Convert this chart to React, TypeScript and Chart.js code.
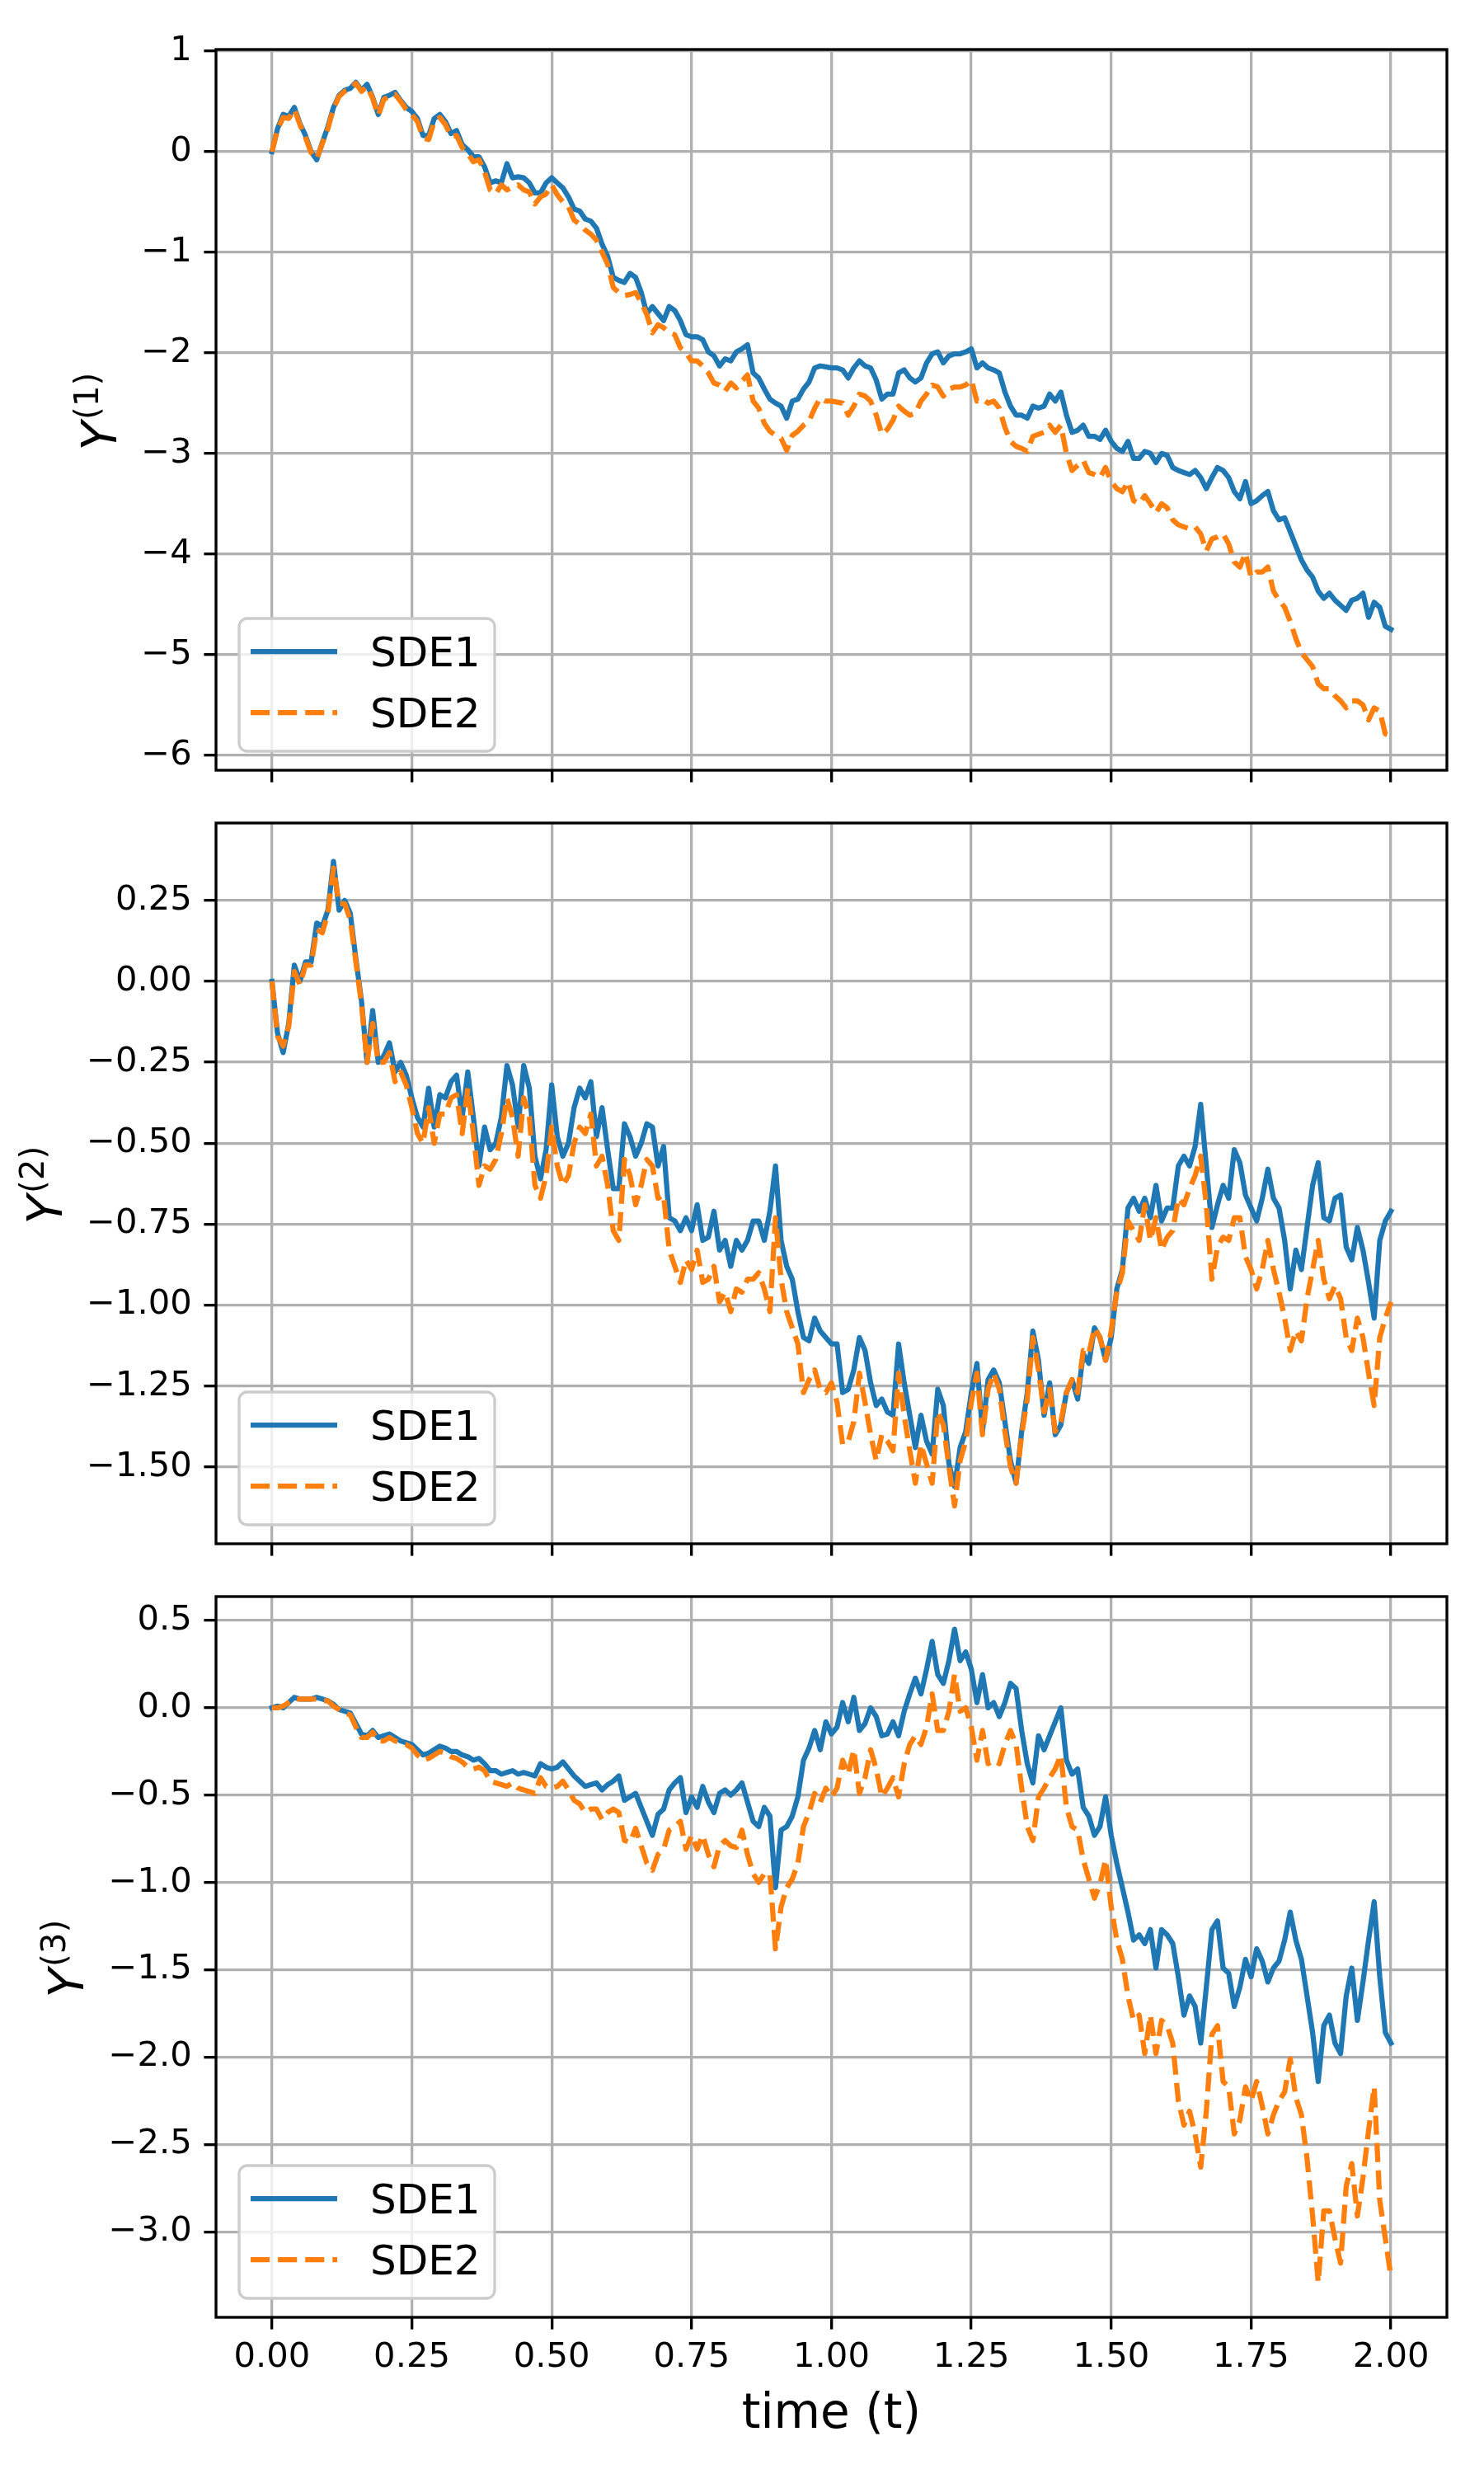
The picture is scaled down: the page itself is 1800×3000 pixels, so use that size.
import { useEffect, useRef } from 'react'
import { Chart, registerables } from 'chart.js'

Chart.register(...registerables)

// samples are 0.01 apart on the time axis, t = 0 .. 2
const TIME_STEP = 0.01

const Y1_SDE1 = [
  0, 0.23, 0.37, 0.35, 0.44, 0.28, 0.16, 0.0, -0.08, 0.09,
  0.25, 0.44, 0.56, 0.61, 0.63, 0.69, 0.61, 0.67, 0.54, 0.37,
  0.54, 0.56, 0.59, 0.51, 0.44, 0.40, 0.33, 0.16, 0.16, 0.33,
  0.37, 0.30, 0.18, 0.21, 0.07, 0.02, -0.05, -0.05, -0.15, -0.31,
  -0.29, -0.31, -0.12, -0.26, -0.25, -0.26, -0.31, -0.41, -0.41, -0.31,
  -0.26, -0.31, -0.36, -0.45, -0.57, -0.59, -0.67, -0.69, -0.76, -0.92,
  -1.04, -1.25, -1.28, -1.30, -1.21, -1.25, -1.40, -1.61, -1.54, -1.61,
  -1.68, -1.54, -1.58, -1.68, -1.82, -1.84, -1.84, -1.87, -1.99, -2.03,
  -2.13, -2.06, -2.08, -1.99, -1.96, -1.92, -2.20, -2.25, -2.36, -2.46,
  -2.50, -2.53, -2.65, -2.48, -2.46, -2.36, -2.29, -2.15, -2.13, -2.14,
  -2.15, -2.15, -2.17, -2.25, -2.15, -2.08, -2.13, -2.15, -2.27, -2.46,
  -2.41, -2.41, -2.20, -2.17, -2.25, -2.29, -2.25, -2.10, -2.01, -1.99,
  -2.10, -2.03, -2.01, -2.01, -1.99, -1.96, -2.15, -2.10, -2.15, -2.17,
  -2.20, -2.39, -2.53, -2.62, -2.62, -2.65, -2.53, -2.55, -2.53, -2.41,
  -2.48, -2.39, -2.62, -2.79, -2.77, -2.72, -2.83, -2.83, -2.86, -2.77,
  -2.88, -2.95, -2.98, -2.88, -3.05, -3.05, -2.98, -3.00, -3.09, -3.00,
  -3.02, -3.14, -3.17, -3.19, -3.21, -3.17, -3.24, -3.35, -3.24, -3.14,
  -3.17, -3.24, -3.38, -3.45, -3.28, -3.50, -3.47, -3.42, -3.38, -3.57,
  -3.66, -3.64, -3.78, -3.92, -4.06, -4.16, -4.23, -4.37, -4.44, -4.39,
  -4.46, -4.51, -4.56, -4.46, -4.44, -4.39, -4.63, -4.48, -4.53, -4.72,
  -4.75,
]

const Y1_SDE2 = [
  0, 0.22, 0.34, 0.33, 0.42, 0.27, 0.14, -0.01, -0.07, 0.08,
  0.23, 0.43, 0.55, 0.60, 0.62, 0.68, 0.60, 0.65, 0.53, 0.36,
  0.52, 0.55, 0.57, 0.50, 0.42, 0.37, 0.30, 0.14, 0.12, 0.30,
  0.34, 0.27, 0.15, 0.16, 0.04, -0.02, -0.10, -0.08, -0.20, -0.38,
  -0.42, -0.33, -0.38, -0.35, -0.33, -0.38, -0.40, -0.52, -0.45, -0.42,
  -0.33, -0.43, -0.50, -0.55, -0.68, -0.72, -0.78, -0.82, -0.88, -1.00,
  -1.12, -1.35, -1.40, -1.43, -1.42, -1.40, -1.50, -1.62, -1.80, -1.72,
  -1.75, -1.80, -1.82, -1.95, -2.00, -2.08, -2.08, -2.13, -2.20, -2.30,
  -2.32, -2.38, -2.30, -2.35, -2.28, -2.22, -2.48, -2.55, -2.70, -2.78,
  -2.82, -2.85, -2.97, -2.82, -2.78, -2.72, -2.68, -2.55, -2.45, -2.48,
  -2.48, -2.49, -2.50, -2.62, -2.53, -2.41, -2.43, -2.48, -2.62, -2.81,
  -2.76, -2.67, -2.53, -2.58, -2.62, -2.60, -2.48, -2.41, -2.32, -2.34,
  -2.43, -2.36, -2.34, -2.34, -2.32, -2.27, -2.48, -2.46, -2.50, -2.48,
  -2.55, -2.74, -2.88, -2.93, -2.95, -2.98, -2.83, -2.81, -2.79, -2.72,
  -2.79, -2.72, -3.00, -3.17, -3.12, -3.07, -3.19, -3.21, -3.24, -3.14,
  -3.28, -3.35, -3.38, -3.28, -3.47, -3.50, -3.42, -3.50, -3.59, -3.50,
  -3.54, -3.66, -3.71, -3.73, -3.75, -3.73, -3.80, -3.97, -3.85, -3.83,
  -3.80, -3.90, -4.08, -4.13, -3.99, -4.23, -4.18, -4.18, -4.13, -4.37,
  -4.46, -4.53, -4.67, -4.84, -4.98, -5.05, -5.12, -5.29, -5.34, -5.34,
  -5.41, -5.46, -5.53, -5.46, -5.46, -5.50, -5.65, -5.53, -5.56, -5.79,
  -5.81,
]

const Y2_SDE1 = [
  0, -0.16, -0.22, -0.13, 0.05, 0.00, 0.06, 0.06, 0.18, 0.17,
  0.22, 0.37, 0.22, 0.25, 0.21, 0.07, -0.06, -0.25, -0.09, -0.25,
  -0.23, -0.19, -0.28, -0.25, -0.29, -0.36, -0.42, -0.45, -0.33, -0.45,
  -0.35, -0.36, -0.31, -0.29, -0.42, -0.28, -0.42, -0.57, -0.45, -0.52,
  -0.50, -0.42, -0.26, -0.32, -0.45, -0.26, -0.33, -0.54, -0.61, -0.52,
  -0.32, -0.48, -0.54, -0.50, -0.39, -0.33, -0.36, -0.31, -0.48, -0.39,
  -0.52, -0.64, -0.64, -0.44, -0.48, -0.54, -0.50, -0.44, -0.45, -0.57,
  -0.51, -0.73, -0.74, -0.77, -0.73, -0.77, -0.69, -0.80, -0.79, -0.71,
  -0.83, -0.80, -0.88, -0.80, -0.83, -0.80, -0.74, -0.74, -0.80, -0.71,
  -0.57, -0.80, -0.88, -0.92, -1.02, -1.10, -1.11, -1.04, -1.08, -1.10,
  -1.12, -1.12, -1.27, -1.26, -1.20, -1.10, -1.14, -1.24, -1.31, -1.29,
  -1.33, -1.34, -1.12, -1.24, -1.34, -1.44, -1.34, -1.42, -1.46, -1.26,
  -1.31, -1.49, -1.56, -1.44, -1.39, -1.27, -1.18, -1.39, -1.23, -1.20,
  -1.24, -1.36, -1.48, -1.55, -1.39, -1.27, -1.08, -1.17, -1.34, -1.24,
  -1.40, -1.37, -1.27, -1.23, -1.29, -1.15, -1.18, -1.07, -1.10, -1.17,
  -1.10, -0.95, -0.89, -0.70, -0.67, -0.71, -0.67, -0.73, -0.63, -0.74,
  -0.70, -0.70, -0.57, -0.54, -0.57, -0.51, -0.38, -0.57, -0.76, -0.69,
  -0.63, -0.67, -0.52, -0.56, -0.66, -0.70, -0.74, -0.67, -0.58, -0.67,
  -0.70, -0.80, -0.95, -0.83, -0.89, -0.76, -0.63, -0.56, -0.73, -0.74,
  -0.67, -0.66, -0.82, -0.86, -0.76, -0.83, -0.93, -1.04, -0.80, -0.74,
  -0.71,
]

const Y2_SDE2 = [
  0, -0.17, -0.20, -0.14, 0.03, -0.01, 0.05, 0.05, 0.16, 0.15,
  0.21, 0.35, 0.24, 0.24, 0.19, 0.06, -0.07, -0.25, -0.13, -0.25,
  -0.25, -0.22, -0.31, -0.28, -0.32, -0.39, -0.47, -0.50, -0.39, -0.50,
  -0.41, -0.41, -0.36, -0.35, -0.47, -0.33, -0.47, -0.63, -0.57, -0.58,
  -0.55, -0.47, -0.36, -0.42, -0.54, -0.36, -0.42, -0.63, -0.67, -0.60,
  -0.45, -0.57, -0.63, -0.60, -0.50, -0.45, -0.47, -0.41, -0.57, -0.54,
  -0.63, -0.77, -0.80, -0.55, -0.60, -0.69, -0.63, -0.55, -0.57, -0.67,
  -0.66, -0.83, -0.88, -0.93, -0.86, -0.89, -0.83, -0.93, -0.92, -0.88,
  -0.99, -0.96, -1.02, -0.95, -0.96, -0.92, -0.92, -0.90, -0.95, -1.02,
  -0.73, -0.92, -1.02, -1.07, -1.12, -1.27, -1.23, -1.20, -1.26, -1.27,
  -1.24, -1.30, -1.43, -1.42, -1.36, -1.21, -1.30, -1.40, -1.48, -1.40,
  -1.42, -1.45, -1.21, -1.34, -1.45, -1.55, -1.43, -1.49, -1.55, -1.33,
  -1.37, -1.50, -1.62, -1.48, -1.42, -1.30, -1.21, -1.40, -1.26, -1.21,
  -1.26, -1.39, -1.50, -1.55, -1.40, -1.29, -1.10, -1.20, -1.33, -1.26,
  -1.39, -1.36, -1.27, -1.23, -1.27, -1.14, -1.15, -1.07, -1.10, -1.17,
  -1.08, -0.96, -0.90, -0.74, -0.77, -0.80, -0.69, -0.80, -0.73, -0.83,
  -0.79, -0.77, -0.67, -0.69, -0.64, -0.60, -0.54, -0.69, -0.92, -0.82,
  -0.79, -0.80, -0.73, -0.73, -0.85, -0.89, -0.95, -0.89, -0.80, -0.89,
  -0.96, -1.04, -1.14, -1.08, -1.11, -0.98, -0.89, -0.80, -0.92, -0.98,
  -0.94, -0.98, -1.10, -1.14, -1.04, -1.10, -1.21, -1.31, -1.10, -1.04,
  -0.99,
]

const Y3_SDE1 = [
  0, 0.01, 0.00, 0.03, 0.06, 0.05, 0.05, 0.05, 0.06, 0.05,
  0.04, 0.02, -0.01, -0.02, -0.03, -0.09, -0.15, -0.16, -0.13, -0.17,
  -0.16, -0.15, -0.17, -0.19, -0.20, -0.21, -0.24, -0.27, -0.26, -0.24,
  -0.22, -0.23, -0.25, -0.25, -0.27, -0.28, -0.30, -0.29, -0.32, -0.36,
  -0.36, -0.38, -0.37, -0.36, -0.38, -0.37, -0.38, -0.39, -0.32, -0.34,
  -0.35, -0.34, -0.31, -0.35, -0.39, -0.42, -0.45, -0.44, -0.43, -0.47,
  -0.44, -0.42, -0.39, -0.53, -0.51, -0.49, -0.57, -0.65, -0.73, -0.61,
  -0.58, -0.47, -0.43, -0.40, -0.60, -0.51, -0.57, -0.45, -0.54, -0.60,
  -0.49, -0.47, -0.50, -0.47, -0.43, -0.54, -0.65, -0.68, -0.57, -0.62,
  -1.03, -0.70, -0.68, -0.62, -0.51, -0.30, -0.23, -0.13, -0.24, -0.08,
  -0.15, -0.11, 0.03, -0.08, 0.06, -0.13, -0.09, 0.00, -0.05, -0.16,
  -0.15, -0.08, -0.16, -0.02, 0.08, 0.17, 0.08, 0.22, 0.38, 0.19,
  0.14, 0.27, 0.45, 0.27, 0.32, 0.22, 0.03, 0.19, 0.00, 0.03,
  -0.05, 0.03, 0.14, 0.11, -0.13, -0.32, -0.43, -0.16, -0.24, -0.16,
  -0.08, 0.00, -0.30, -0.38, -0.35, -0.57, -0.62, -0.73, -0.68, -0.51,
  -0.73, -0.89, -1.03, -1.17, -1.33, -1.30, -1.35, -1.27, -1.49, -1.27,
  -1.30, -1.35, -1.54, -1.76, -1.65, -1.71, -1.92, -1.60, -1.27, -1.22,
  -1.49, -1.52, -1.71, -1.60, -1.44, -1.54, -1.38, -1.45, -1.57, -1.49,
  -1.45, -1.33, -1.17, -1.33, -1.44, -1.65, -1.86, -2.14, -1.82, -1.76,
  -1.92, -1.98, -1.65, -1.49, -1.79, -1.57, -1.33, -1.11, -1.54, -1.86,
  -1.92,
]

const Y3_SDE2 = [
  0, 0.00, 0.01, 0.03, 0.05, 0.05, 0.05, 0.05, 0.05, 0.04,
  0.04, 0.01, -0.01, -0.03, -0.04, -0.11, -0.17, -0.17, -0.14, -0.19,
  -0.19, -0.17, -0.19, -0.20, -0.21, -0.23, -0.27, -0.30, -0.29, -0.27,
  -0.25, -0.26, -0.28, -0.29, -0.31, -0.34, -0.35, -0.34, -0.36, -0.42,
  -0.43, -0.44, -0.45, -0.43, -0.46, -0.47, -0.48, -0.49, -0.40, -0.45,
  -0.46, -0.45, -0.42, -0.47, -0.53, -0.55, -0.60, -0.58, -0.58, -0.64,
  -0.60, -0.58, -0.60, -0.76, -0.77, -0.69, -0.79, -0.89, -0.93, -0.84,
  -0.81, -0.70, -0.68, -0.65, -0.81, -0.73, -0.81, -0.73, -0.84, -0.91,
  -0.79, -0.76, -0.79, -0.80, -0.70, -0.84, -0.95, -1.00, -0.95, -0.95,
  -1.38, -1.14, -1.03, -0.98, -0.89, -0.68, -0.60, -0.49, -0.54, -0.46,
  -0.51, -0.46, -0.30, -0.38, -0.24, -0.49, -0.40, -0.24, -0.35, -0.51,
  -0.46, -0.40, -0.51, -0.32, -0.21, -0.16, -0.21, -0.11, 0.08, -0.13,
  -0.13, -0.02, 0.19, -0.02, 0.00, -0.11, -0.30, -0.13, -0.32, -0.30,
  -0.32, -0.21, -0.13, -0.21, -0.46, -0.68, -0.76, -0.51, -0.46, -0.40,
  -0.35, -0.27, -0.57, -0.68, -0.70, -0.87, -0.98, -1.09, -1.01, -0.87,
  -1.14, -1.33, -1.44, -1.65, -1.79, -1.76, -1.98, -1.76, -1.98, -1.79,
  -1.82, -1.92, -2.25, -2.39, -2.31, -2.44, -2.63, -2.31, -1.87, -1.82,
  -2.14, -2.17, -2.44, -2.36, -2.17, -2.25, -2.14, -2.28, -2.44, -2.33,
  -2.25, -2.20, -2.01, -2.23, -2.33, -2.58, -2.91, -3.29, -2.88, -2.88,
  -3.04, -3.18, -2.74, -2.61, -2.91, -2.69, -2.42, -2.17, -2.82, -3.04,
  -3.26,
]

const X_TICKS = [0, 0.25, 0.5, 0.75, 1, 1.25, 1.5, 1.75, 2]
const Y1_TICKS = [-6, -5, -4, -3, -2, -1, 0, 1]
const Y2_TICKS = [-1.5, -1.25, -1, -0.75, -0.5, -0.25, 0, 0.25]
const Y3_TICKS = [-3, -2.5, -2, -1.5, -1, -0.5, 0, 0.5]
const SERIES_NAMES = ['SDE1', 'SDE2']

// matplotlib look at 300 dpi
const BLUE = '#1f77b4'
const ORANGE = '#ff7f0e'
const FONT = '"DejaVu Sans", sans-serif'
const TICK_FONT = 41.7
const LINE_W = 6.25
const THIN = 3.33
const TICK_LEN = 14.6
const AXES_LEFT = 262
const AXES_RIGHT = 1755
const AXES_TOP = 60
const AXES_H = 874

const fmt = (v: number, d: number) => v.toFixed(d).replace('-', '\u2212')

type PanelProps = {
  sde1: number[]
  sde2: number[]
  yTicks: number[]
  decimals: number
  yMin: number
  yMax: number
  index: string
  top: number
  height: number
  showTime: boolean
}

function Panel(p: PanelProps) {
  const ref = useRef<HTMLCanvasElement>(null)

  useEffect(() => {
    if (!ref.current) return

    const decor = {
      id: 'decor',
      afterDatasetsDraw(chart: Chart) {
        const { ctx, chartArea: a } = chart
        ctx.save()
        ctx.strokeStyle = '#000'
        ctx.lineWidth = THIN
        ctx.strokeRect(a.left, a.top, a.right - a.left, a.bottom - a.top)
        ctx.restore()
      },
      afterDraw(chart: Chart) {
        const { ctx, chartArea: a } = chart
        ctx.save()

        // legend, lower left
        const bx = a.left + 28
        const by = a.bottom - 184
        ctx.beginPath()
        ctx.roundRect(bx, by, 310, 161, 10)
        ctx.fillStyle = 'rgba(255,255,255,0.8)'
        ctx.fill()
        ctx.strokeStyle = '#cccccc'
        ctx.lineWidth = THIN
        ctx.stroke()

        const rows = [a.bottom - 144, a.bottom - 70]
        const colors = [BLUE, ORANGE]
        rows.forEach((ry, i) => {
          ctx.beginPath()
          ctx.strokeStyle = colors[i]
          ctx.lineWidth = LINE_W
          ctx.setLineDash(i === 1 ? [23.1, 10] : [])
          ctx.moveTo(a.left + 42, ry)
          ctx.lineTo(a.left + 147, ry)
          ctx.stroke()
          ctx.setLineDash([])
          ctx.fillStyle = '#000'
          ctx.font = `50px ${FONT}`
          ctx.textAlign = 'left'
          ctx.textBaseline = 'alphabetic'
          ctx.fillText(SERIES_NAMES[i], a.left + 187, ry + 18)
        })

        // y label sits left of the widest tick label, like matplotlib
        ctx.font = `${TICK_FONT}px ${FONT}`
        const maxTick = Math.max(...p.yTicks.map((v) => ctx.measureText(fmt(v, p.decimals)).width))
        const labelX = a.left - 2 * TICK_LEN - maxTick - 30.4

        // italic Y with superscript (n)
        const cy = (a.top + a.bottom) / 2 + 2
        ctx.translate(labelX, cy)
        ctx.rotate(-Math.PI / 2)
        ctx.fillStyle = '#000'
        ctx.textAlign = 'left'
        ctx.textBaseline = 'alphabetic'
        ctx.font = `italic 58px ${FONT}`
        const wy = ctx.measureText('Y').width
        ctx.font = `40.6px ${FONT}`
        const sup = `(${p.index})`
        const ws = ctx.measureText(sup).width
        const u0 = -(wy + ws + 2) / 2
        ctx.font = `italic 58px ${FONT}`
        ctx.fillText('Y', u0, 0)
        ctx.font = `40.6px ${FONT}`
        ctx.fillText(sup, u0 + wy + 2, -22)
        ctx.restore()

        if (p.showTime) {
          ctx.save()
          ctx.fillStyle = '#000'
          ctx.font = `58px ${FONT}`
          ctx.textAlign = 'center'
          ctx.textBaseline = 'alphabetic'
          ctx.fillText('time (t)', (a.left + a.right) / 2, a.bottom + 134)
          ctx.restore()
        }
      },
    }

    const pts = (arr: number[]) => arr.map((y, i) => ({ x: i * TIME_STEP, y }))
    const xHeight = p.height - AXES_TOP - AXES_H

    const chart = new Chart(ref.current, {
      type: 'line',
      data: {
        datasets: [
          {
            label: SERIES_NAMES[0],
            data: pts(p.sde1),
            borderColor: BLUE,
            borderWidth: LINE_W,
            pointRadius: 0,
            tension: 0,
            borderJoinStyle: 'round',
            borderCapStyle: 'square',
            order: 2,
          },
          {
            label: SERIES_NAMES[1],
            data: pts(p.sde2),
            borderColor: ORANGE,
            borderWidth: LINE_W,
            borderDash: [23.1, 10],
            pointRadius: 0,
            tension: 0,
            borderJoinStyle: 'round',
            order: 1,
          },
        ],
      },
      options: {
        animation: false,
        responsive: false,
        devicePixelRatio: 1,
        events: [],
        layout: { padding: { left: 0, top: AXES_TOP, right: 1800 - AXES_RIGHT, bottom: 0 } },
        plugins: { legend: { display: false }, tooltip: { enabled: false } },
        scales: {
          x: {
            type: 'linear',
            min: -0.1,
            max: 2.1,
            afterBuildTicks: (s: any) => {
              s.ticks = X_TICKS.map((v) => ({ value: v }))
            },
            afterFit: (s: any) => {
              s.height = xHeight
            },
            grid: {
              color: '#b0b0b0',
              lineWidth: THIN,
              tickColor: '#000',
              tickWidth: THIN,
              tickLength: TICK_LEN,
              drawTicks: true,
            },
            border: { display: false },
            ticks: {
              display: p.showTime,
              autoSkip: false,
              maxRotation: 0,
              padding: 10,
              color: '#000',
              font: { family: FONT, size: TICK_FONT },
              callback: (v: any) => fmt(Number(v), 2),
            },
          },
          y: {
            type: 'linear',
            min: p.yMin,
            max: p.yMax,
            afterBuildTicks: (s: any) => {
              s.ticks = p.yTicks.map((v) => ({ value: v }))
            },
            afterFit: (s: any) => {
              s.width = AXES_LEFT
            },
            grid: {
              color: '#b0b0b0',
              lineWidth: THIN,
              tickColor: '#000',
              tickWidth: THIN,
              tickLength: TICK_LEN,
              drawTicks: true,
            },
            border: { display: false },
            ticks: {
              autoSkip: false,
              padding: TICK_LEN,
              color: '#000',
              font: { family: FONT, size: TICK_FONT },
              callback: (v: any) => fmt(Number(v), p.decimals),
            },
          },
        },
      },
      plugins: [decor],
    } as any)

    return () => chart.destroy()
  }, [])

  return (
    <canvas
      ref={ref}
      width={1800}
      height={p.height}
      style={{ position: 'absolute', left: 0, top: p.top, display: 'block' }}
    />
  )
}

export default function App() {
  return (
    <div style={{ position: 'absolute', left: 0, top: 0, width: 1800, height: 3000, background: '#fff' }}>
      <Panel sde1={Y1_SDE1} sde2={Y1_SDE2} yTicks={Y1_TICKS} decimals={0} yMin={-6.15} yMax={1.016} index="1" top={0} height={1000} showTime={false} />
      <Panel sde1={Y2_SDE1} sde2={Y2_SDE2} yTicks={Y2_TICKS} decimals={2} yMin={-1.737} yMax={0.489} index="2" top={938} height={1000} showTime={false} />
      <Panel sde1={Y3_SDE1} sde2={Y3_SDE2} yTicks={Y3_TICKS} decimals={1} yMin={-3.49} yMax={0.637} index="3" top={1876} height={1124} showTime={true} />
    </div>
  )
}
